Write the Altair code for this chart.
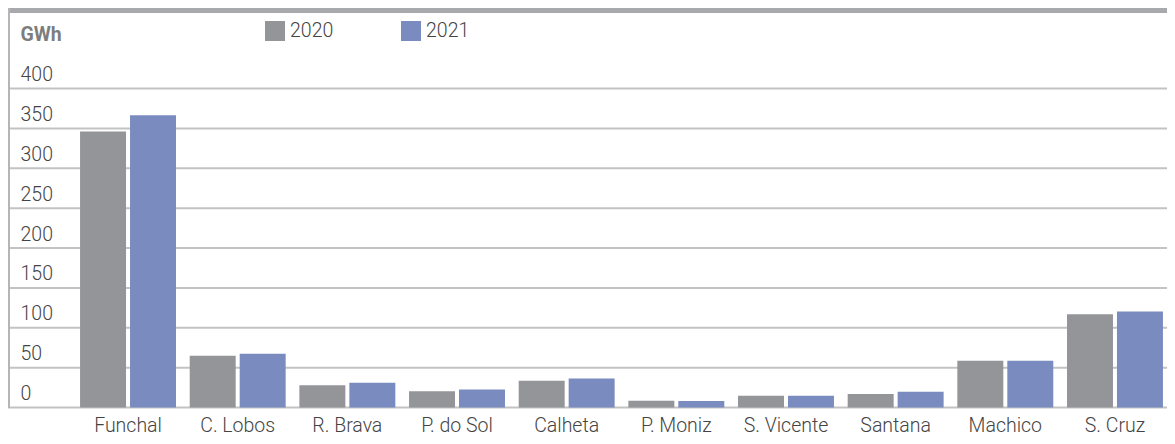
import altair as alt
import pandas as pd

categories = ["Funchal", "C. Lobos", "R. Brava", "P. do Sol", "Calheta",
              "P. Moniz", "S. Vicente", "Santana", "Machico", "S. Cruz"]
values_2020 = [346, 65, 28, 20.5, 33.5, 8.5, 14.8, 17, 58.6, 117]
values_2021 = [366.5, 67.5, 31, 22.5, 36.5, 8.3, 14.6, 19.6, 58.5, 120.5]
years = ["2020", "2021"]
y_ticks = [0, 50, 100, 150, 200, 250, 300, 350, 400]
unit_label = ["GWh"]

FONT = "Roboto"
W, H = 1159, 400

rows = []
for c, a, b in zip(categories, values_2020, values_2021):
    rows.append({"cat": c, "year": "2020", "v": a})
    rows.append({"cat": c, "year": "2021", "v": b})
df = pd.DataFrame(rows)
cat_df = pd.DataFrame({"cat": categories})
tick_df = pd.DataFrame({"v": y_ticks})
unit_df = pd.DataFrame({"t": unit_label})

x_scale = alt.Scale(domain=categories, range=[65.2, 1161.8], round=False,
                    paddingInner=0.125, paddingOuter=0.0625)
y_scale = alt.Scale(domain=[0, 400], range=[399.5, 80.5], nice=False, zero=True,
                    round=False)

grid = alt.Chart(tick_df).mark_rule(color="#c3c3c3", strokeWidth=2).encode(
    y=alt.Y("v:Q", scale=y_scale, axis=None),
    x=alt.value(0), x2=alt.value(W),
)

ylabels = alt.Chart(tick_df).mark_text(
    align="left", baseline="alphabetic", dy=-7.5, font=FONT, fontSize=19.5,
    fontWeight=300, color="#444444").encode(
    y=alt.Y("v:Q", scale=y_scale, axis=None),
    x=alt.value(12.5),
    text=alt.Text("v:Q"),
)

bars = alt.Chart(df).mark_bar().encode(
    x=alt.X("cat:N", scale=x_scale, sort=categories, axis=None),
    xOffset=alt.XOffset("year:N", scale=alt.Scale(domain=years, paddingInner=0.08,
                                                   round=False)),
    y=alt.Y("v:Q", scale=y_scale, axis=None),
    color=alt.Color("year:N",
                    scale=alt.Scale(domain=years, range=["#939598", "#7a8bbf"]),
                    legend=alt.Legend(title=None, orient="none", legendX=257, legendY=13,
                                      direction="horizontal", symbolType="square",
                                      symbolSize=400, symbolStrokeWidth=0,
                                      labelFont=FONT, labelFontSize=19.5,
                                      labelFontWeight=300,
                                      labelColor="#444444", labelOffset=5,
                                      columnPadding=67, labelBaseline="middle")),
)

xlabels = alt.Chart(cat_df).mark_text(
    align="center", baseline="alphabetic", font=FONT, fontSize=19.5,
    fontWeight=300, color="#444444").encode(
    x=alt.X("cat:N", scale=x_scale, sort=categories, axis=None),
    y=alt.value(423.5),
    text="cat:N",
)

unit = alt.Chart(unit_df).mark_text(
    align="left", baseline="alphabetic", font=FONT, fontSize=19.5,
    fontWeight="bold", color="#7d7d7d").encode(
    x=alt.value(12.5), y=alt.value(33), text="t:N",
)

top_band = alt.Chart(unit_df).mark_rect(color="#a7a9ac").encode(
    x=alt.value(0), x2=alt.value(W), y=alt.value(0), y2=alt.value(5),
)

left_line = alt.Chart(unit_df).mark_rule(color="#b5b5b5", strokeWidth=2).encode(
    x=alt.value(1), y=alt.value(0), y2=alt.value(400),
)

chart = alt.layer(top_band, grid, left_line, bars, ylabels, xlabels, unit).properties(
    width=W, height=H,
    padding={"left": 0, "top": 0, "right": 0, "bottom": 28},
    autosize=alt.AutoSizeParams(type="none"),
).configure_view(stroke=None)

chart.save("out.html", embed_options={"renderer": "svg", "actions": False})
